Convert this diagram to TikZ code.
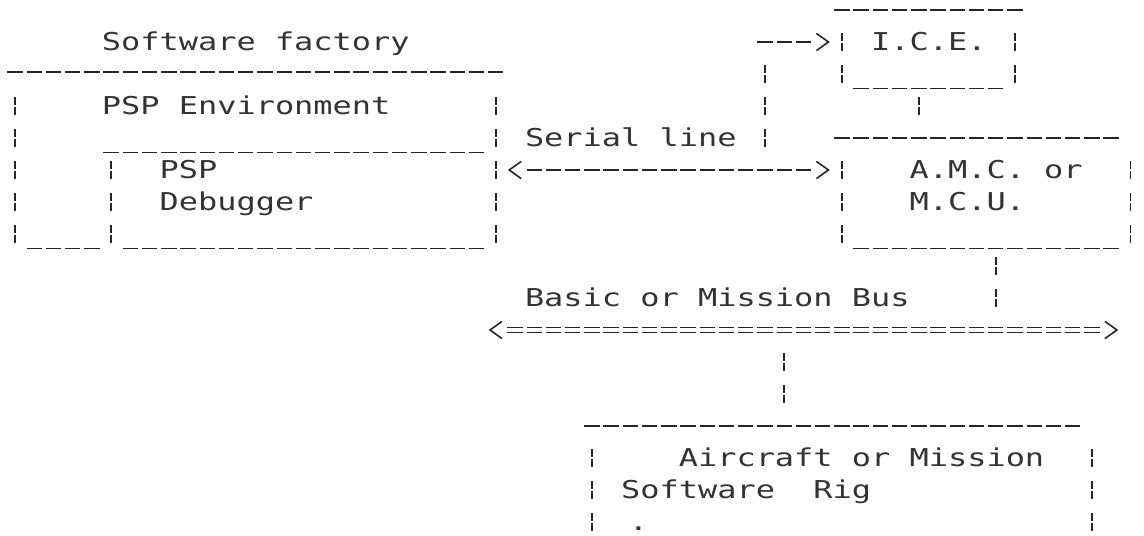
\documentclass[tikz,border=0pt]{standalone}
\usepackage{fontspec}
\newfontfamily\dotmono[FakeStretch=1.2985]{DejaVu Sans Mono}
\newcommand{\gap}{\hspace*{9.615pt}}
\usetikzlibrary{arrows.meta}

\begin{document}
\begin{tikzpicture}[x=9.615pt, y=-16pt,
  txt/.style={font=\dotmono\fontsize{12.3pt}{16pt}\selectfont, text=black!80, inner sep=0pt, anchor=base west},
  hdash/.style={line width=0.65pt, black!85, dash pattern=on 7.7pt off 1.915pt},
  eqline/.style={line width=0.55pt, black!85, dash pattern=on 7.7pt off 1.915pt},
  bar/.style={line width=0.8pt, black!85, dash pattern=on 4pt off 1pt on 4pt off 7pt},
  chev/.style={line width=0.8pt, black!85, line join=miter}]
\useasboundingbox (-0.78,-1.3125) rectangle (58.71,15.406);

\node[txt] (factory) at (4.5,0.28) {Software\gap factory};
\node[txt] (ice) at (44.5,0.28) {I.C.E.};
\node[txt] (env) at (4.5,2.28) {PSP\gap Environment};
\node[txt] (serial) at (26.5,3.28) {Serial\gap line};
\node[txt] (psp) at (7.5,4.28) {PSP};
\node[txt] (dbg) at (7.5,5.28) {Debugger};
\node[txt] (amc) at (46.5,4.28) {A.M.C.\gap or};
\node[txt] (mcu) at (46.5,5.28) {M.C.U.};
\node[txt] (bus) at (26.5,8.28) {Basic\gap or\gap Mission\gap Bus};
\node[txt] (rig) at (34.5,13.28) {Aircraft\gap or\gap Mission};
\node[txt] (rigsw) at (31.5,14.28) {Software\gap\gap Rig};
\node[txt] (mark) at (31.9,15.28) {.};

% software factory
\draw[hdash] (-0.4,0.94) -- (25.4,0.94);
\draw[bar] (0,1.72) -- (0,6.28);
\draw[bar] (25,1.72) -- (25,6.28);
\draw[bar] (5,3.72) -- (5,6.28);
\draw[hdash] (4.6,3.46) -- (24.4,3.46);
\draw[hdash] (0.6,6.46) -- (4.4,6.46);
\draw[hdash] (5.6,6.46) -- (24.4,6.46);

% I.C.E.
\draw[hdash] (42.6,-1) -- (52.4,-1);
\draw[bar] (43,-0.28) -- (43,1.28);
\draw[bar] (52,-0.28) -- (52,1.28);
\draw[hdash] (43.6,1.46) -- (51.4,1.46);

% A.M.C.
\draw[hdash] (42.6,3) -- (57.4,3);
\draw[bar] (43,3.72) -- (43,6.28);
\draw[bar] (58,3.72) -- (58,6.28);
\draw[hdash] (43.6,6.46) -- (57.4,6.46);

% rig
\draw[hdash] (29.6,12) -- (55.4,12);
\draw[bar] (30,12.72) -- (30,15.28);
\draw[bar] (56,12.72) -- (56,15.28);

\coordinate (fac-out) at (25.7,4);
\coordinate (amc-in) at (42.3,4);
\coordinate (tap) at (39,3.28);
\coordinate (tap-top) at (39,0.72);
\coordinate (tap-corner) at (38.6,0);
\coordinate (ice-in) at (42.3,0);
\coordinate (ice-s) at (47,1.72);
\coordinate (amc-n) at (47,2.28);
\coordinate (amc-s) at (51,6.72);
\coordinate (bus-n) at (51,8.28);
\coordinate (bus-w) at (24.7,9);
\coordinate (bus-e) at (57.3,9);
\coordinate (bus-s) at (40,9.72);
\coordinate (rig-n) at (40,11.28);

\draw[hdash, shorten <=8.65pt, shorten >=8.65pt] (fac-out) -- (amc-in);
\draw[chev] ([shift={(6pt,4.3pt)}]fac-out) -- (fac-out) -- ([shift={(6pt,-4.3pt)}]fac-out);
\draw[chev] ([shift={(-6pt,4.3pt)}]amc-in) -- (amc-in) -- ([shift={(-6pt,-4.3pt)}]amc-in);

\draw[bar] (tap) -- (tap-top);
\draw[hdash, shorten >=8.65pt] (tap-corner) -- (ice-in);
\draw[chev] ([shift={(-6pt,4.3pt)}]ice-in) -- (ice-in) -- ([shift={(-6pt,-4.3pt)}]ice-in);

\draw[bar] (ice-s) -- (amc-n);
\draw[bar] (amc-s) -- (bus-n);

\draw[eqline, shorten <=8.65pt, shorten >=8.65pt, transform canvas={yshift=1.3pt}] (bus-w) -- (bus-e);
\draw[eqline, shorten <=8.65pt, shorten >=8.65pt, transform canvas={yshift=-1.3pt}] (bus-w) -- (bus-e);
\draw[chev] ([shift={(6pt,4.3pt)}]bus-w) -- (bus-w) -- ([shift={(6pt,-4.3pt)}]bus-w);
\draw[chev] ([shift={(-6pt,4.3pt)}]bus-e) -- (bus-e) -- ([shift={(-6pt,-4.3pt)}]bus-e);

\draw[bar] (bus-s) -- (rig-n);
\end{tikzpicture}
\end{document}
